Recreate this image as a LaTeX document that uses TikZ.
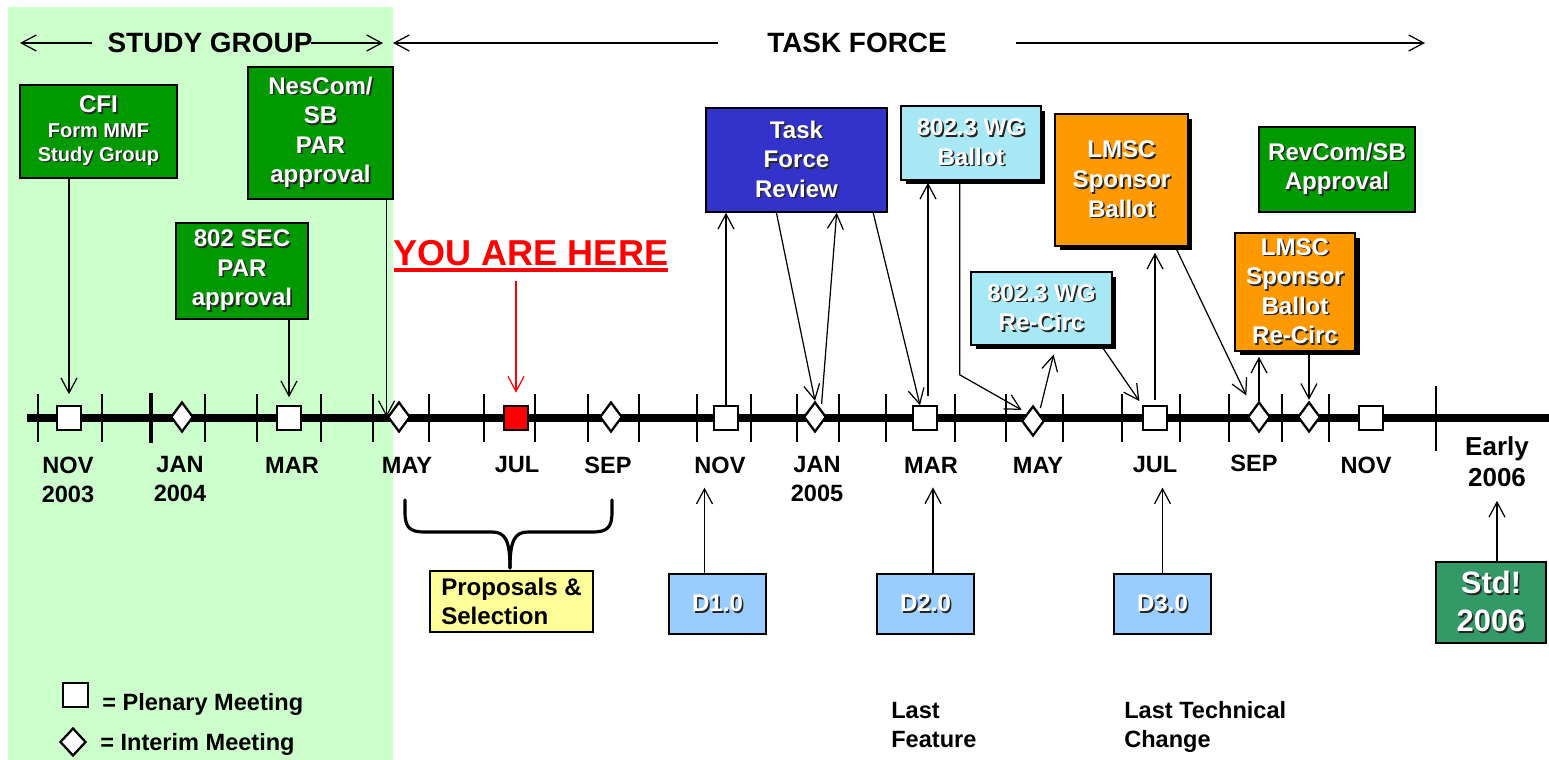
\documentclass[tikz,border=0pt]{standalone}
\usepackage{fontspec}
\setmainfont{Liberation Sans}
\usetikzlibrary{shapes.geometric,arrows.meta,shadows,calc}
\definecolor{sgbg}{HTML}{CCFFCC}
\definecolor{boxgreen}{HTML}{009900}
\definecolor{tfblue}{HTML}{3333CC}
\definecolor{wgcyan}{HTML}{A8E8F4}
\definecolor{lmscorange}{HTML}{FF9900}
\definecolor{propyellow}{HTML}{FFFF99}
\definecolor{draftblue}{HTML}{99CCFF}
\definecolor{stdgreen}{HTML}{339966}
\newcommand\wt[1]{\rlap{\kern0.9pt\raisebox{-0.9pt}{\color{black!85}#1}}{\color{white}#1}}
\tikzset{
  box/.style={draw, line width=0.9pt, inner sep=0pt, align=center,
    font=\fontsize{13.7}{16.8}\selectfont\bfseries},
  shbox/.style={box, drop shadow={shadow xshift=0.09cm, shadow yshift=-0.09cm, opacity=1, fill=black}},
  plen/.style={draw, fill=white, line width=0.9pt, minimum width=0.48cm, minimum height=0.48cm, inner sep=0pt},
  inter/.style={draw, fill=white, diamond, line width=1.3pt, minimum width=0.45cm, minimum height=0.6cm, inner sep=0pt},
  conn/.style={-{Straight Barb[length=0.3cm,width=0.32cm]}, line width=0.7pt},
  month/.style={align=center, inner sep=0pt, font=\fontsize{13.4}{16.5}\selectfont\bfseries},
  head/.style={inner sep=0pt, font=\fontsize{15.9}{18}\selectfont\bfseries}
}
\begin{document}
\begin{tikzpicture}[x=0.02cm,y=-0.02cm]
\useasboundingbox (0,0) rectangle (1549,760);
%Study group
\fill[sgbg] (8,7) rectangle (393,760);
\node[head] (sg) at (210,43) {STUDY GROUP};
\node[head] (tf) at (857,43) {TASK FORCE};
\coordinate (sgL) at (20,43);
\coordinate (sgR) at (383,43);
\coordinate (tfL) at (393,43);
\coordinate (tfR) at (1425,43);
\draw[conn] ([xshift=-0.3cm]sg.west) -- (sgL);
\draw[conn] ([xshift=-0.04cm]sg.east) -- (sgR);
\draw[conn] ([xshift=-0.98cm]tf.west) -- (tfL);
\draw[conn] ([xshift=1.38cm]tf.east) -- (tfR);
%Timeline
\draw[line width=4pt] (27,418) -- (1385,418);
\draw[line width=5pt] (1385,418) -- (1549,418);
\foreach \x in {38,102,205,257,321,373,429,484,535,588,639,697,751,797,839,886,955,1006,1063,1122,1180,1229,1282,1329}
  \draw[line width=0.8pt] (\x,394) -- (\x,442);
\draw[line width=2pt] (151,393) -- (151,443);
\draw[line width=0.8pt] (1436,386) -- (1436,451);
\foreach \x/\n in {69/nov03, 289/mar04, 726/nov04, 925/mar05, 1155/jul05, 1371/nov05}
  \node[plen] (\n) at (\x,418) {};
\node[plen, fill=red] (jul04) at (516,418) {};
\foreach \x/\n in {182/jan04, 399/may04, 611/sep04, 815/jan05, 1259/sep05, 1309/oct05}
  \node[inter] (\n) at (\x,417) {};
\node[inter] (may05) at (1033,421) {};
\foreach \x/\y/\n/\t in {68/479.5/mnov03/NOV\\2003, 180/479.5/mjan04/JAN\\2004, 292/465/mmar04/MAR,
  407/465/mmay04/MAY, 517/465/mjul04/JUL, 608/465/msep04/SEP, 720/465/mnov04/NOV,
  817/479.5/mjan05/JAN\\2005, 931/465/mmar05/MAR, 1038/465/mmay05/MAY, 1155/465/mjul05/JUL,
  1254/463/msep05/SEP, 1366/465/mnov05/NOV}
  \node[month] (\n) at (\x,\y) {\t};
\node[month, font=\fontsize{14.8}{17.6}\selectfont\bfseries] (mearly) at (1497,461.5) {Early\\2006};
%Study group boxes
\node[box, fill=boxgreen, minimum width=3.14cm, minimum height=1.86cm, font=\fontsize{11.4}{13.7}\selectfont\bfseries] (cfi) at (98.5,131.5)
  {{\fontsize{13.7}{16}\selectfont\wt{CFI}}\\\wt{Form MMF}\\\wt{Study Group}};
\node[box, fill=boxgreen, minimum width=2.9cm, minimum height=2.64cm] (nes) at (320.5,133)
  {\wt{NesCom/}\\\wt{SB}\\\wt{PAR}\\\wt{approval}};
\node[box, fill=boxgreen, minimum width=2.64cm, minimum height=1.92cm] (sec) at (242,271)
  {\wt{802 SEC}\\\wt{PAR}\\\wt{approval}};
\draw[conn, shorten >=0.22cm] (nov03.north |- cfi.south) -- (nov03.north);
\draw[conn, shorten >=0.16cm] (mar04.north |- sec.south) -- (mar04.north);
\draw[conn] (may04.west |- nes.south) -- (may04.west);
%You are here
\node[text=red, inner sep=0pt, font=\fontsize{20.5}{24}\selectfont\bfseries] (yah) at (531,253) {YOU ARE HERE};
\draw[red, line width=2.2pt] ([yshift=-0.08cm]yah.south west) -- ([yshift=-0.08cm]yah.south east);
\draw[conn, red, shorten <=0.3cm, shorten >=0.25cm] (jul04.north |- yah.south) -- (jul04.north);
%Task force boxes
\node[box, fill=tfblue, minimum width=3.62cm, minimum height=2.08cm] (tfr) at (796.5,160)
  {\wt{Task}\\\wt{Force}\\\wt{Review}};
\node[shbox, fill=wgcyan, minimum width=2.8cm, minimum height=1.48cm] (wgb) at (971,143)
  {\wt{802.3 WG}\\\wt{Ballot}};
\node[shbox, fill=lmscorange, minimum width=2.66cm, minimum height=2.64cm] (lsb) at (1121.5,180)
  {\wt{LMSC}\\\wt{Sponsor}\\\wt{Ballot}};
\node[box, fill=boxgreen, minimum width=3.12cm, minimum height=1.7cm] (rev) at (1337,169.5)
  {\wt{RevCom/SB}\\\wt{Approval}};
\node[shbox, fill=wgcyan, minimum width=2.82cm, minimum height=1.46cm] (wgr) at (1041.5,308.5)
  {\wt{802.3 WG}\\\wt{Re-Circ}};
\node[shbox, fill=lmscorange, minimum width=2.4cm, minimum height=2.36cm] (lrc) at (1295,292)
  {\wt{LMSC}\\\wt{Sponsor}\\\wt{Ballot}\\\wt{Re-Circ}};
\draw[conn] (nov04.north) -- (nov04.north |- tfr.south);
\draw[conn] ($(tfr.south west)!0.39!(tfr.south east)$) -- (jan05.north);
\draw[conn, shorten <=0.1cm] (jan05.north east) -- ($(tfr.south west)!0.72!(tfr.south east)$);
\draw[conn] ($(tfr.south west)!0.92!(tfr.south east)$) -- ([xshift=-0.1cm]mar05.north);
\draw[conn, shorten <=0.18cm, shorten >=0.04cm] ([xshift=0.06cm]mar05.north) -- ([xshift=0.06cm]mar05.north |- wgb.south);
\draw[conn, shorten >=0.12cm] ($(wgb.south west)!0.42!(wgb.south east)$) -- ++(0,194) -- (may05.north west);
\draw[conn, shorten <=0.1cm, shorten >=0.18cm] (may05.north east) -- ($(wgr.south west)!0.6!(wgr.south east)$);
\draw[conn, shorten >=0.1cm] ($(wgr.south west)!0.92!(wgr.south east)$) -- (jul05.north west);
\draw[conn, shorten <=0.1cm, shorten >=0.12cm] (jul05.north) -- (jul05.north |- lsb.south);
\draw[conn, shorten >=0.3cm] ($(lsb.south west)!0.9!(lsb.south east)$) -- (sep05.north west);
\draw[conn, shorten >=0.1cm] (sep05.north) -- (sep05.north |- lrc.south);
\draw[conn, shorten >=0.02cm] (oct05.north |- lrc.south) -- (oct05.north);
%Proposals
\draw[line width=1.8pt, line cap=round] (405,500) -- (405,512) .. controls (405,528) and (410,532) .. (425,532)
  -- (492,532) .. controls (505,532) and (510,540) .. (510,568);
\draw[line width=1.8pt, line cap=round] (612,500) -- (612,512) .. controls (612,528) and (607,532) .. (592,532)
  -- (528,532) .. controls (515,532) and (510,540) .. (510,568);
\node[box, fill=propyellow, align=left, minimum width=3.26cm, minimum height=1.22cm] (prop) at (511.5,601.5)
  {Proposals \&\\Selection};
%Drafts
\foreach \x/\n/\t in {717.5/d1/D1.0, 925.5/d2/D2.0, 1162.5/d3/D3.0}
  \node[box, fill=draftblue, minimum width=1.94cm, minimum height=1.2cm] (\n) at (\x,604) {\wt{\t}};
\node[box, fill=stdgreen, line width=1.5pt, minimum width=2.2cm, minimum height=1.62cm,
  font=\fontsize{17.6}{21.6}\selectfont\bfseries] (std) at (1491,602.5) {\wt{Std!}\\\wt{2006}};
\draw[conn, shorten >=0.28cm] ([xshift=-0.26cm]d1.north) -- ([xshift=-0.26cm]d1.north |- mnov04.south);
\draw[conn, shorten >=0.28cm] ([xshift=0.15cm]d2.north) -- ([xshift=0.15cm]d2.north |- mmar05.south);
\draw[conn, shorten >=0.28cm] (d3.north) -- (d3.north |- mjul05.south);
\draw[conn, shorten >=0.28cm] ([xshift=0.12cm]std.north) -- ([xshift=0.12cm]std.north |- mearly.south);
\node[month, align=left, anchor=north west] (lf) at (891,701.5) {Last\\Feature};
\node[month, align=left, anchor=north west] (ltc) at (1124,701.5) {Last Technical\\Change};
%Legend
\node[plen, minimum width=0.5cm] (lgp) at (75.5,695) {};
\node[month, anchor=base west] (lgpt) at (102,710.5) {= Plenary Meeting};
\node[inter, minimum width=0.52cm, minimum height=0.56cm] (lgi) at (73,742) {};
\node[month, anchor=base west] (lgit) at (100,750.5) {= Interim Meeting};
\end{tikzpicture}
\end{document}
